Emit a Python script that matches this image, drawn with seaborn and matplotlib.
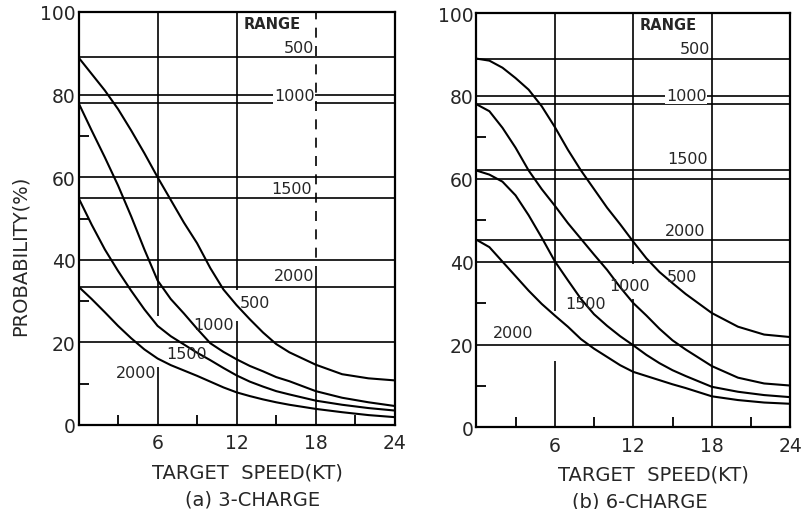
import numpy as np
import pandas as pd
import seaborn as sns
import matplotlib.pyplot as plt

speed = [0, 1, 2, 3, 4, 5, 6, 7, 8, 9, 10, 11, 12, 13, 14, 15, 16, 18, 20, 22, 24]
ranges = ['500', '1000', '1500', '2000']

# (a) 3-charge, probability (%) per range
a_500 = [89, 85, 81, 76.5, 71.3, 65.8, 60, 54.5, 49, 44, 38, 32.8, 29, 25.6, 22.4, 19.6, 17.6, 14.6, 12.3, 11.3, 10.8]
a_1000 = [78, 71.3, 64.8, 58, 50.5, 42.5, 35, 30.5, 27, 23.3, 19.8, 17.7, 15.9, 14.3, 13, 11.6, 10.6, 8.2, 6.6, 5.5, 4.6]
a_1500 = [55, 48.5, 42.5, 37.3, 32.5, 28, 24, 21.5, 19.5, 17.5, 15.7, 13.8, 12, 10.5, 9.3, 8.2, 7.4, 5.9, 4.9, 4.1, 3.5]
a_2000 = [33.5, 30.5, 27.3, 24, 21, 18.3, 16.1, 14.5, 13.2, 11.9, 10.5, 9.1, 7.9, 7, 6.2, 5.5, 4.9, 3.9, 3.1, 2.4, 1.9]

# (b) 6-charge
b_500 = [89, 88.5, 86.8, 84.3, 81.5, 77.5, 72.5, 67, 62, 57.5, 53, 49, 44.8, 40.8, 37.5, 34.8, 32.2, 27.6, 24.3, 22.4, 21.8]
b_1000 = [78, 76.3, 72.3, 67.5, 62, 57.5, 53.5, 49.3, 45.5, 41.7, 38, 33.8, 30, 27, 23.8, 21, 18.8, 14.8, 12, 10.6, 10.1]
b_1500 = [62, 61, 59.3, 56, 51.2, 45.8, 40.1, 35.5, 31, 27.3, 24.5, 22, 19.8, 17.5, 15.5, 13.8, 12.4, 9.8, 8.6, 7.8, 7.3]
b_2000 = [45.3, 43.5, 40, 36.5, 33, 29.8, 27, 24.3, 21.3, 19, 17, 15, 13.4, 12.4, 11.4, 10.4, 9.5, 7.5, 6.6, 6, 5.7]

x_ticks = [6, 12, 18, 24]
y_ticks = [0, 20, 40, 60, 80, 100]


def to_frame(series):
    rows = []
    for rng, vals in zip(ranges, series):
        for s, p in zip(speed, vals):
            rows.append((s, p, rng))
    return pd.DataFrame(rows, columns=['speed', 'prob', 'range'])


df_a = to_frame([a_500, a_1000, a_1500, a_2000])
df_b = to_frame([b_500, b_1000, b_1500, b_2000])

sns.set_theme(style='white')
plt.rcParams['font.family'] = ['DejaVu Sans']

fig = plt.figure(figsize=(8.01, 5.10), dpi=100)
ax_a = fig.add_axes([78.5 / 801, 84 / 510, 316.3 / 801, 413 / 510])
ax_b = fig.add_axes([476.3 / 801, 81.6 / 510, 314 / 801, 414.4 / 510])


def draw_panel(ax, df, vsegs, range_pos, curve_pos):
    # grid and the starting-probability lines
    for y in y_ticks[1:-1]:
        ax.axhline(y, color='black', lw=1.2, zorder=1)
    for rng in ranges:
        ax.axhline(df[df['range'] == rng]['prob'].iloc[0], color='black', lw=1.2, zorder=1)
    for x, y0, y1, ls in vsegs:
        ax.vlines(x, y0, y1, color='black', lw=1.2, linestyles=ls, zorder=1)

    sns.lineplot(data=df, x='speed', y='prob', hue='range', palette=['black'] * 4,
                 legend=False, lw=1.5, ax=ax, zorder=3)

    ax.set_xlim(0, 24)
    ax.set_ylim(0, 100)
    ax.set_xticks(x_ticks)
    ax.set_xticks([3, 9, 15, 21], minor=True)
    ax.set_yticks(y_ticks)
    ax.set_yticks([10, 30, 50, 70], minor=True)
    ax.tick_params(which='major', length=0, labelsize=13.5)
    ax.tick_params(axis='x', which='major', pad=6)
    ax.tick_params(axis='y', which='major', pad=2)
    ax.tick_params(which='minor', direction='in', length=7, width=1.3, color='black',
                   bottom=True, left=True)
    ax.set_xlabel('')
    ax.set_ylabel('')
    for sp in ax.spines.values():
        sp.set_color('black')
        sp.set_linewidth(1.6)

    ax.text(12.5, 97.3, 'RANGE', ha='left', va='center', fontsize=10.5, fontweight='bold')
    for (x, y), lab in zip(range_pos, ranges):
        ax.text(x, y, lab, ha='right', va='center', fontsize=11.5, zorder=4,
                bbox=dict(facecolor='white', edgecolor='none', pad=0.5))
    for (x, y), lab in zip(curve_pos, ranges):
        ax.text(x, y, lab, ha='center', va='center', fontsize=11.5, zorder=4)


draw_panel(ax_a, df_a,
           [(6, 0, 14, 'solid'), (6, 26.5, 100, 'solid'),
            (12, 0, 25.3, 'solid'), (12, 32.6, 100, 'solid'),
            (18, 0, 36, 'solid'), (18, 36, 100, (0, (6, 5)))],
           [(17.9, 91.5), (17.9, 79.8), (17.7, 57.2), (17.9, 36.2)],
           [(13.4, 29.6), (10.25, 24.4), (8.2, 17.2), (4.4, 12.6)])

draw_panel(ax_b, df_b,
           [(6, 0, 16, 'solid'), (6, 28, 100, 'solid'),
            (12, 0, 31, 'solid'), (12, 39.5, 100, 'solid'),
            (18, 0, 100, 'solid')],
           [(17.9, 91.4), (17.6, 80), (17.7, 65), (17.5, 47.6)],
           [(15.75, 36.3), (11.7, 34.3), (8.35, 30), (2.8, 23)])

fig.text(20.5 / 801, 1 - 256 / 510, 'PROBABILITY(%)', rotation=90, ha='center', va='center', fontsize=14)
fig.text(247 / 801, 1 - 473 / 510, 'TARGET  SPEED(KT)', ha='center', va='center', fontsize=14)
fig.text(653 / 801, 1 - 475 / 510, 'TARGET  SPEED(KT)', ha='center', va='center', fontsize=14)
fig.text(253 / 801, 1 - 500 / 510, '(a) 3-CHARGE', ha='center', va='center', fontsize=14)
fig.text(640 / 801, 1 - 502 / 510, '(b) 6-CHARGE', ha='center', va='center', fontsize=14)

fig.savefig('out.png', dpi=100)
